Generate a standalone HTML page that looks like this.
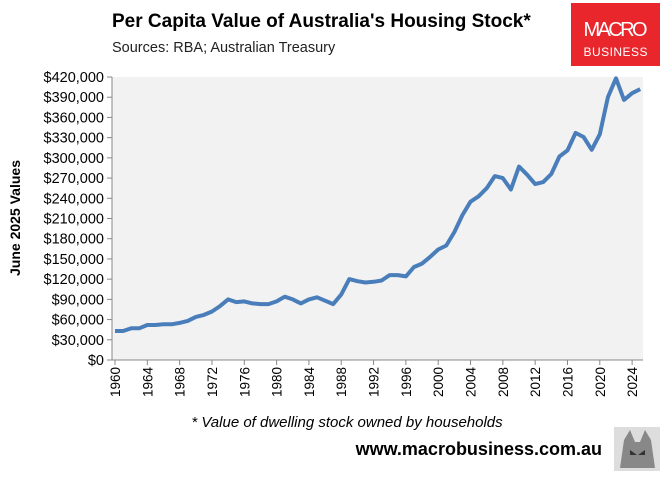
<!DOCTYPE html>
<html><head><meta charset="utf-8"><style>
body{margin:0;background:#fff;font-family:"Liberation Sans",sans-serif}
</style></head><body>
<svg width="667" height="478" viewBox="0 0 667 478" font-family="Liberation Sans, sans-serif">
<text x="112" y="27" font-size="19" font-weight="bold" fill="#000">Per Capita Value of Australia's Housing Stock*</text>
<text x="112" y="52" font-size="14.5" fill="#222">Sources: RBA; Australian Treasury</text>
<g>
<rect x="571" y="3" width="89" height="63" fill="#e8262b"/>
<text x="615.5" y="36" font-size="20" fill="#fff" text-anchor="middle" textLength="64">MACRO</text>
<text x="615.5" y="56" font-size="12" fill="#fff" text-anchor="middle" textLength="64">BUSINESS</text>
</g>
<rect x="112" y="77" width="531" height="283" fill="#f2f2f2"/>
<g id="yaxis"></g>
<g id="xaxis"></g>
<text transform="translate(20,218) rotate(-90)" font-size="14" font-weight="bold" text-anchor="middle">June 2025 Values</text>
<path id="line" fill="none" stroke="#4a7ebb" stroke-width="4" stroke-linejoin="round"/>
<text x="347" y="427" font-size="15" font-style="italic" text-anchor="middle">* Value of dwelling stock owned by households</text>
<text x="602" y="455" font-size="18" font-weight="bold" text-anchor="end">www.macrobusiness.com.au</text>
<g>
<rect x="614" y="427" width="46" height="44" fill="#ddd"/>
<path d="M620 468 L624 440 L630 430 L635 442 L640 442 L645 430 L651 440 L655 468 Z" fill="#888"/>
<path d="M630 450 L637 455 L630 455Z M645 450 L638 455 L645 455Z" fill="#333"/>
</g>
</svg>
<script>
const years=[];for(let y=1960;y<=2025;y++)years.push(y);
const values=[43,43,47,47,52,52,53,53,55,58,64,67,72,80,90,86,87,84,83,83,87,94,90,84,90,93,88,83,97,120,117,115,116,118,126,126,124,138,143,153,164,170,190,215,235,243,255,273,270,253,287,275,261,264,276,302,311,337,331,312,335,390,418,386,396,402];
const yTicks=[0,30,60,90,120,150,180,210,240,270,300,330,360,390,420];
const xTickYears=[1960,1964,1968,1972,1976,1980,1984,1988,1992,1996,2000,2004,2008,2012,2016,2020,2024];
const NS="http://www.w3.org/2000/svg";
const X=y=>115+(y-1960)*8.08;
const Y=v=>360-v*283/420;
const ya=document.getElementById('yaxis'),xa=document.getElementById('xaxis');
function mk(t,a,p){const e=document.createElementNS(NS,t);for(const k in a)e.setAttribute(k,a[k]);p.appendChild(e);return e;}
const yl=mk('line',{x1:112,x2:112,y1:77,y2:360,stroke:'#888'},ya);


yTicks.forEach(v=>{
 const t=mk('line',{x1:107,x2:112,y1:Y(v),y2:Y(v),stroke:'#888'},ya);
 
 
 const l=mk('text',{x:104,y:Y(v)+5,'font-size':14.5,'text-anchor':'end'},ya);
 l.textContent=v===0?'$0':'$'+v+',000';
 
 
});
const xl=mk('line',{x1:112,x2:643,y1:360,y2:360,stroke:'#888'},xa);


xTickYears.forEach(yr=>{
 const t=mk('line',{x1:X(yr),x2:X(yr),y1:360,y2:365,stroke:'#888'},xa);
 
 
 const l=mk('text',{transform:`translate(${X(yr)+5},367) rotate(-90)`,'font-size':13.5,'text-anchor':'end'},xa);
 l.textContent=yr;
 
 
});
document.getElementById('line').setAttribute('d',values.map((v,i)=>(i?'L':'M')+X(years[i]).toFixed(1)+' '+Y(v).toFixed(1)).join(' '));
</script>
</body></html>
